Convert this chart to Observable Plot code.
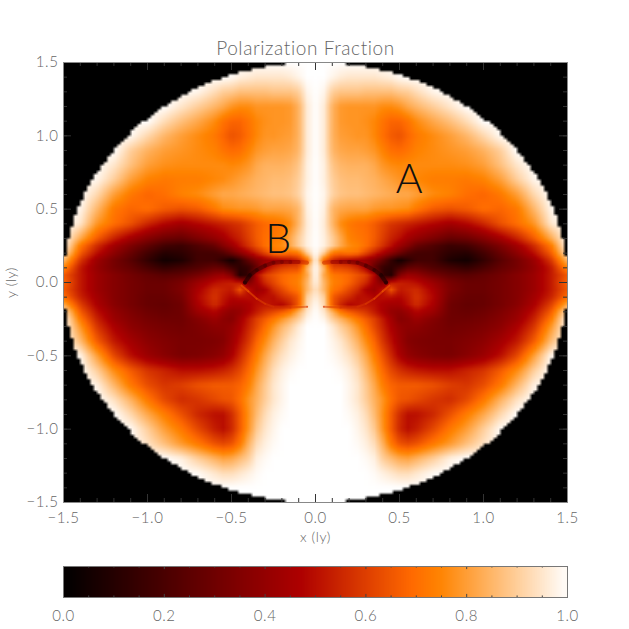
<!DOCTYPE html>
<html><head><meta charset="utf-8">
<script src="https://cdn.jsdelivr.net/npm/d3@7"></script>
<script src="https://cdn.jsdelivr.net/npm/@observablehq/plot@0.6"></script>
<style>html,body{margin:0;background:#fff}svg{display:block;background:#fff}</style>
</head><body><div id="main"></div><div id="bar"></div>
<script>
const gridX=[0,.05,.1,.15,.2,.25,.3,.35,.4,.45,.5,.55,.6,.7,.8,.9,1,1.1,1.2,1.3,1.4,1.5];
const gridY=[1.5,1.4,1.3,1.2,1.1,1,.9,.8,.7,.6,.5,.4,.3,.25,.2,.15,.1,.05,0,-.05,-.1,-.15,-.2,-.25,-.3,-.4,-.5,-.6,-.7,-.8,-.9,-1,-1.1,-1.2,-1.3,-1.4,-1.5];
// polarization fraction (percent); right half, mirrored about x=0
const fraction=[
[100],
[100,100,98,96,95,95,95,95,96,97,99,100],
[100,98,90,88,88,88,87,87,87,87,89,90,93,98],
[100,96,84,79,78,78,78,78,76,76,78,82,85,90,95],
[100,96,84,79,78,78,77,75,71,68,68,71,76,82,87,93],
[100,96,84,80,79,78,78,75,70,66,64,68,72,76,80,85,92,99],
[100,96,85,82,81,81,80,78,74,70,69,71,74,76,78,80,84,90],
[100,97,88,85,84,84,84,82,78,76,75,76,76,76,76,77,80,87,95],
[100,97,90,87,86,86,85,84,82,80,78,76,75,73,73,72,74,80,90,98],
[100,98,91,88,87,87,86,85,84,83,82,82,80,76,74,70,68,72,80,92,100],
[100,97,85,82,81,81,81,79,78,78,77,76,72,66,64,66,70,68,72,85,98],
[100,96,85,76,72,70,69,66,62,58,56,54,52,48,44,48,55,64,70,78,95],
[100,97,90,82,74,72,70,66,60,54,50,44,40,34,28,30,36,44,54,66,82,100],
[100,97,90,82,76,74,70,64,57,50,42,36,28,22,16,18,26,34,44,56,72,100],
[100,90,72,70,72,70,62,54,46,38,30,22,18,18,12,10,18,28,38,50,66,95],
[100,70,55,50,48,45,42,36,26,14,5,12,18,18,8,5,14,24,32,42,58,85],
[100,85,62,62,60,55,46,26,14,12,18,26,28,22,18,14,20,27,32,40,52,75],
[100,82,72,70,68,64,60,48,14,10,35,42,40,32,26,24,27,31,36,42,52,66],
[98,85,74,72,68,62,56,45,34,52,54,52,50,42,33,29,29,32,36,42,52,68],
[95,85,72,68,62,56,46,42,50,64,52,54,56,46,34,29,29,32,36,42,52,66],
[97,90,66,60,56,50,50,48,50,50,48,52,58,48,32,28,28,32,36,44,54,70],
[99,92,66,55,48,50,52,50,46,44,44,50,56,46,30,27,28,32,37,46,60,82],
[100,95,84,72,66,62,58,52,46,40,38,42,48,42,30,28,30,34,40,50,66,95],
[100,98,90,84,78,72,66,60,52,44,36,38,42,36,30,30,32,36,42,54,72,100],
[100,100,96,90,85,78,70,62,54,46,40,38,38,34,31,32,34,38,46,58,78],
[100,100,98,95,90,84,76,68,58,50,42,36,34,33,33,35,38,44,52,66,86],
[100,100,99,97,94,89,82,73,64,55,46,40,37,34,33,37,42,50,62,80,98],
[100,100,100,99,97,93,86,78,69,62,57,54,52,50,50,54,58,66,76,90],
[100,100,100,100,98,95,89,82,73,68,66,66,66,64,60,58,63,72,85,97],
[100,100,100,100,98,95,90,84,78,70,65,64,62,58,56,62,72,84,94],
[100,100,100,100,99,97,93,86,77,66,56,50,50,55,64,73,82,92],
[100,100,100,100,100,98,95,89,78,66,55,50,53,62,72,80,90,99],
[100,100,100,100,100,99,97,93,84,72,64,62,64,72,79,87,94],
[100,100,100,100,100,100,99,97,90,86,82,81,84,90,97],
[100,100,100,100,100,100,100,99,97,95,93,93,95,99],
[100],
[100]];
// thin arcs near the centre: x, y, fraction
const upperArc=[[.05,.135,.55],[.1,.14,.4],[.15,.14,.34],[.2,.14,.3],[.25,.135,.25],[.3,.115,.18],[.35,.085,.12],[.39,.05,.06],[.42,0,.08]];
const lowerArc=[[.44,-.02,.68],[.4,-.06,.66],[.35,-.11,.62],[.3,-.145,.58],[.25,-.165,.56],[.15,-.17,.58],[.05,-.165,.6]];
const colorDomain=[0,.47,.69,.745,1];
const colorRange=["#000000","#ae0000","#ff6a00","#ff8400","#ffffff"];
const xTickValues=[-1.5,-1,-.5,0,.5,1,1.5];
const minorTicks=d3.range(-14,15).map(d=>d/10);
const barTicks=[0,.2,.4,.6,.8,1];
const barMinor=[.05,.1,.15,.25,.3,.35,.45,.5,.55,.65,.7,.75,.85,.9,.95];
const labels=[{t:"A",x:.56,y:.70},{t:"B",x:-.22,y:.29}];
const FONT='Lato,"Open Sans",sans-serif';
const TEXT="#666";

const yAsc=gridY.slice().reverse();
const at=(i,j)=>(fraction[gridY.length-1-j][i]??100)/100;
function sample(x,y){
  const ax=Math.abs(x);
  if(ax*ax+y*y>1.5*1.5) return 0;
  const i=Math.max(0,Math.min(gridX.length-2,d3.bisectRight(gridX,ax)-1));
  const j=Math.max(0,Math.min(yAsc.length-2,d3.bisectRight(yAsc,y)-1));
  const u=(ax-gridX[i])/(gridX[i+1]-gridX[i]), v=(y-yAsc[j])/(yAsc[j+1]-yAsc[j]);
  return (1-v)*((1-u)*at(i,j)+u*at(i+1,j))+v*((1-u)*at(i,j+1)+u*at(i+1,j+1));
}
const color={type:"linear",domain:colorDomain,range:colorRange,clamp:true};
const H=146.67,W=168;
const arcMark=(arc,side,w,op)=>Plot.line(arc,{x:d=>side*d[0],y:d=>d[1],stroke:d=>d[2],z:null,strokeWidth:w,strokeOpacity:op,curve:"catmull-rom"});
const main=Plot.plot({
  width:629,height:556,marginLeft:63,marginRight:62,marginTop:62,marginBottom:54,
  style:{fontFamily:FONT,color:TEXT,background:"#fff",letterSpacing:"0.6px",fontWeight:300},
  x:{domain:[-1.5,1.5]},y:{domain:[-1.5,1.5]},color,
  marks:[
    Plot.raster({fill:sample,x1:-1.5,x2:1.5,y1:-1.5,y2:1.5,width:150,height:150}),
    arcMark(upperArc,1,4,.55),arcMark(upperArc,-1,4,.55),
    arcMark(lowerArc,1,2,.5),arcMark(lowerArc,-1,2,.5),
    Plot.ruleX(minorTicks,{x:d=>d,y1:-1.5,y2:-1.5+4/H,stroke:"#333"}),
    Plot.ruleX(minorTicks,{x:d=>d,y1:1.5,y2:1.5-4/H,stroke:"#333"}),
    Plot.ruleX(xTickValues,{x:d=>d,y1:-1.5,y2:-1.5+8/H,stroke:"#333"}),
    Plot.ruleX(xTickValues,{x:d=>d,y1:1.5,y2:1.5-8/H,stroke:"#333"}),
    Plot.ruleY(minorTicks,{y:d=>d,x1:-1.5,x2:-1.5+4/W,stroke:"#333"}),
    Plot.ruleY(minorTicks,{y:d=>d,x1:1.5,x2:1.5-4/W,stroke:"#333"}),
    Plot.ruleY(xTickValues,{y:d=>d,x1:-1.5,x2:-1.5+8/W,stroke:"#333"}),
    Plot.ruleY(xTickValues,{y:d=>d,x1:1.5,x2:1.5-8/W,stroke:"#333"}),
    Plot.frame({stroke:"#888"}),
    Plot.axisX({ticks:xTickValues,tickSize:0,tickPadding:10,tickFormat:d3.format(".1f"),fontSize:15,label:"x (ly)",labelAnchor:"center",labelArrow:"none",labelOffset:39}),
    Plot.axisY({ticks:xTickValues,tickSize:0,tickPadding:5,tickFormat:d3.format(".1f"),fontSize:15,label:"y (ly)",labelAnchor:"center",labelArrow:"none",labelOffset:57}),
    Plot.text(["Polarization Fraction"],{frameAnchor:"top",dy:-8,dx:-10,lineAnchor:"bottom",fontSize:19,fill:TEXT,style:"letter-spacing:2.6px"}),
    Plot.text(labels,{x:"x",y:"y",text:"t",fontSize:41,fontWeight:300,fill:"#111"})
  ]
});
main.querySelectorAll('[aria-label="y-axis label"] text,[aria-label="x-axis label"] text').forEach(t=>t.setAttribute("font-size","14"));
document.getElementById("main").append(main);
const bar=Plot.plot({
  width:629,height:73,marginLeft:63,marginRight:62,marginTop:10,marginBottom:32,
  style:{fontFamily:FONT,color:TEXT,background:"#fff",letterSpacing:"0.6px",fontWeight:300},
  x:{domain:[0,1]},y:{domain:[0,1],axis:null},color,
  marks:[
    Plot.raster({fill:(x,y)=>x,x1:0,x2:1,y1:0,y2:1,width:50,height:1}),
    Plot.ruleX(barMinor,{x:d=>d,y1:0,y2:.05,stroke:"#444"}),
    Plot.ruleX(barMinor,{x:d=>d,y1:1,y2:.95,stroke:"#444"}),
    Plot.ruleX(barTicks,{x:d=>d,y1:0,y2:.1,stroke:"#444"}),
    Plot.ruleX(barTicks,{x:d=>d,y1:1,y2:.9,stroke:"#444"}),
    Plot.frame({stroke:"#777"}),
    Plot.axisX({ticks:barTicks,tickSize:0,tickPadding:13,tickFormat:d3.format(".1f"),fontSize:15,label:null})
  ]
});
document.getElementById("bar").append(bar);
</script></body></html>
